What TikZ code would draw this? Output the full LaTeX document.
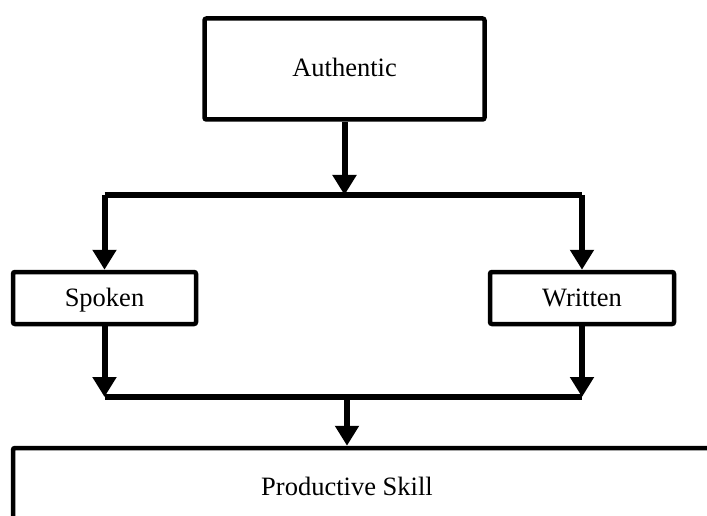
\documentclass[tikz,border=0pt]{standalone}
\usepackage{fontspec}
\setmainfont{Liberation Serif}
\usetikzlibrary{arrows.meta}
\begin{document}
\begin{tikzpicture}[x=1pt, y=1pt, every node/.style={font=\fontsize{26.5}{31}\selectfont,text height=19pt,text depth=3pt},
  box/.style={draw,line width=4.5pt,rounded corners=2pt,inner sep=0pt,align=center},
  conn/.style={line width=6pt,-{Triangle[width=23pt,length=20pt]}},
  bar/.style={line width=6pt}]
\useasboundingbox (0,0) rectangle (707,515);
\node[box,minimum width=280,minimum height=101] (auth) at (344.5,446) {Authentic};
\node[box,minimum width=183,minimum height=52] (spoken) at (104.5,217) {Spoken};
\node[box,minimum width=184,minimum height=52] (written) at (582,217) {Written};
\node[box,minimum width=706,minimum height=80] (prod) at (366,27) {};
\node (prodtxt) at (347,28) {Productive Skill};
\coordinate (jtop) at (347,320);
\coordinate (jbot) at (347,118);
\draw[conn] (auth.south) -- (auth.south |- jtop);
\draw[bar] (spoken.north |- jtop) -- (written.north |- jtop);
\draw[conn] (spoken.north |- jtop) -- (spoken.north);
\draw[conn] (written.north |- jtop) -- (written.north);
\draw[conn] (spoken.south) -- (spoken.south |- jbot);
\draw[conn] (written.south) -- (written.south |- jbot);
\draw[bar] (spoken.south |- jbot) -- (written.south |- jbot);
\draw[conn] (jbot) -- (jbot |- prod.north);
\end{tikzpicture}
\end{document}
